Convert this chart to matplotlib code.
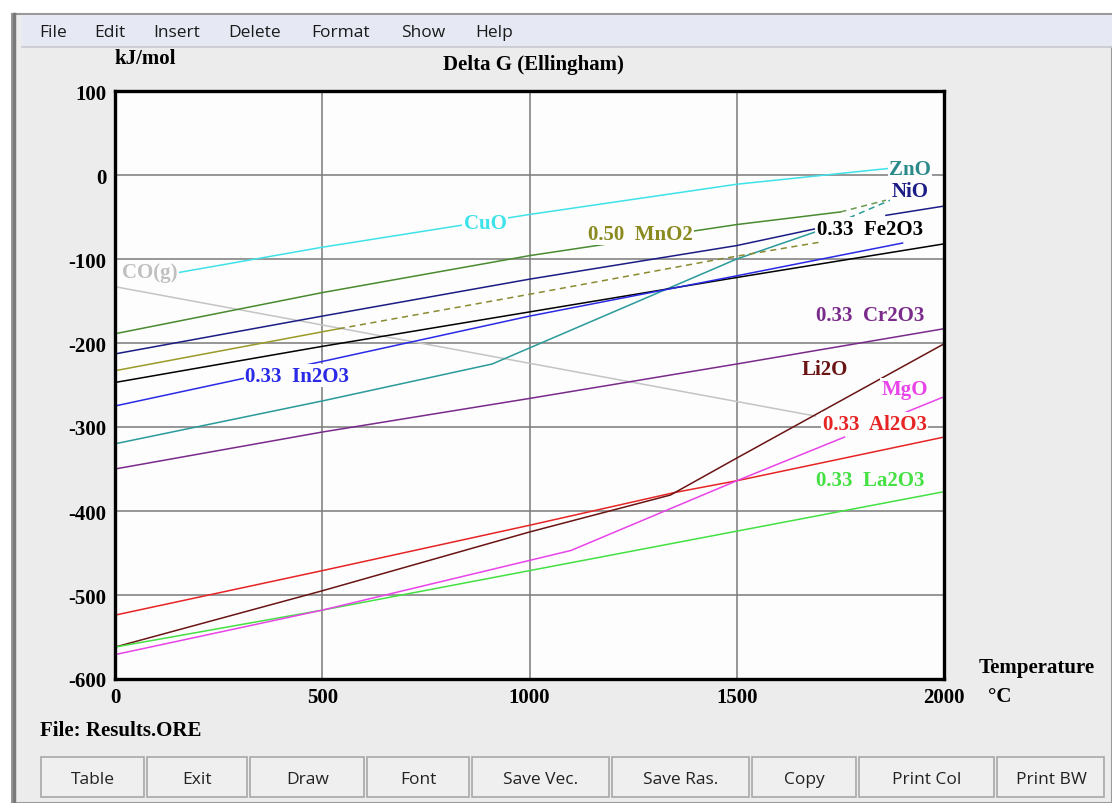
import matplotlib.pyplot as plt
from matplotlib.patches import Rectangle
import numpy as np

plt.rcParams["axes.unicode_minus"] = False

# temperature (deg C) / Delta G (kJ/mol)
co_t = [0, 1690]
co_g = [-133, -287]
cuo_t = [120, 500, 1000, 1500, 1870]
cuo_g = [-119, -86, -47, -11, 8]
zno_t = [0, 500, 910, 1500, 1700]
zno_g = [-320, -269, -225, -100, -66]
zno_dash_t = [1700, 1870]
zno_dash_g = [-66, -30]
mno2_t = [0, 500, 1000, 1500, 1750]
mno2_g = [-189, -140, -96, -59, -44]
mno2_dash_t = [1750, 1860]
mno2_dash_g = [-44, -30]
olive_t = [0, 540]
olive_g = [-233, -183]
olive_dash_t = [540, 1000, 1460, 1700]
olive_dash_g = [-183, -142, -100, -80]
nio_t = [0, 500, 1000, 1500, 1690]
nio_g = [-213, -168, -124, -84, -64]
nio2_t = [1860, 2000]
nio2_g = [-48, -37]
fe2o3_t = [0, 500, 1000, 1500, 2000]
fe2o3_g = [-247, -204, -163, -122, -82]
in2o3_t = [0, 500, 1000, 1500, 1900]
in2o3_g = [-275, -222, -168, -120, -81]
cr2o3_t = [0, 500, 1000, 1500, 2000]
cr2o3_g = [-350, -306, -266, -225, -183]
al2o3_t = [0, 500, 1000, 1350, 1500, 2000]
al2o3_g = [-524, -471, -417, -378, -364, -312]
li2o_t = [0, 500, 1000, 1340, 1500, 2000]
li2o_g = [-562, -495, -425, -381, -337, -201]
mgo_t = [0, 500, 1100, 1500, 1760]
mgo_g = [-571, -518, -447, -364, -312]
mgo2_t = [1880, 2000]
mgo2_g = [-288, -264]
la2o3_t = [0, 500, 1000, 1500, 2000]
la2o3_g = [-562, -518, -471, -424, -377]

menu_items = ["File", "Edit", "Insert", "Delete", "Format", "Show", "Help"]
menu_x = [53, 110, 177, 255, 341, 423, 494]
buttons = ["Table", "Exit", "Draw", "Font", "Save Vec.", "Save Ras.",
           "Copy", "Print Col", "Print BW"]
button_edges = [40, 146, 249, 366, 471, 611, 751, 858, 996, 1106]

serif = ["Liberation Serif", "DejaVu Serif"]
sans = ["Open Sans", "DejaVu Sans"]
fs = 15

fig = plt.figure(figsize=(11.12, 8.04), dpi=100)
fig.patch.set_facecolor("white")

# window chrome
bg = fig.add_axes([0, 0, 1, 1])
bg.set_xlim(0, 1112)
bg.set_ylim(804, 0)
bg.axis("off")
bg.add_patch(Rectangle((12, 15), 1100, 789, facecolor="#ececec",
                       edgecolor="#9a9a9a", lw=1.5))
bg.add_patch(Rectangle((22, 16), 1090, 32, facecolor="#e6e9f4",
                       edgecolor="none"))
bg.plot([22, 1112], [48, 48], color="#c8c8d0", lw=1.2)
bg.plot([14, 14], [15, 804], color="#7a7a7a", lw=2.5)
for name, mx in zip(menu_items, menu_x):
    bg.text(mx, 33, name, ha="center", va="center", fontsize=12.5,
            family=sans, color="#1a1a1a")
for i, name in enumerate(buttons):
    x0, x1 = button_edges[i], button_edges[i + 1]
    bg.add_patch(Rectangle((x0 + 1, 758), x1 - x0 - 3, 40, facecolor="#efefef",
                           edgecolor="#a8a8a8", lw=1.2))
    bg.text((x0 + x1) / 2, 780, name, ha="center", va="center",
            fontsize=12.5, family=sans, color="#222222")
bg.text(145, 59, "kJ/mol", ha="center", va="center", fontsize=fs,
        family=serif, weight="bold")
bg.text(533, 65, "Delta G (Ellingham)", ha="center", va="center",
        fontsize=fs, family=serif, weight="bold")
bg.text(1037, 668, "Temperature", ha="center", va="center", fontsize=fs,
        family=serif, weight="bold")
bg.text(1000, 697, "°C", ha="center", va="center", fontsize=fs,
        family=serif, weight="bold")
bg.text(40, 731, "File: Results.ORE", ha="left", va="center", fontsize=fs,
        family=serif, weight="bold")

# plot
ax = fig.add_axes([115 / 1112, 1 - 680 / 804, 829 / 1112, 588 / 804])
ax.set_facecolor("#fdfdfd")
ax.set_xlim(0, 2000)
ax.set_ylim(-600, 100)
ax.set_xticks([0, 500, 1000, 1500, 2000])
ax.set_yticks([100, 0, -100, -200, -300, -400, -500, -600])
ax.tick_params(length=0, pad=6)
for lab in ax.get_xticklabels() + ax.get_yticklabels():
    lab.set_family(serif)
    lab.set_weight("bold")
    lab.set_fontsize(fs)
for s in ax.spines.values():
    s.set_linewidth(2.4)
    s.set_color("black")
for gx in [500, 1000, 1500]:
    ax.axvline(gx, color="#7a7a7a", lw=1.1, zorder=0)
for gy in [0, -100, -200, -300, -400, -500]:
    ax.axhline(gy, color="#7a7a7a", lw=1.1, zorder=0)

lw = 1.1
dash = (0, (4, 3))
ax.plot(co_t, co_g, color="#c4c4c4", lw=lw)
ax.plot(cuo_t, cuo_g, color="#3ee2ea", lw=lw)
ax.plot(zno_t, zno_g, color="#2a9a9a", lw=lw)
ax.plot(zno_dash_t, zno_dash_g, color="#2a9a9a", lw=lw, ls=dash)
ax.plot(mno2_t, mno2_g, color="#4a8a30", lw=lw)
ax.plot(mno2_dash_t, mno2_dash_g, color="#6a9a50", lw=lw, ls=dash)
ax.plot(olive_t, olive_g, color="#9a9a28", lw=lw)
ax.plot(olive_dash_t, olive_dash_g, color="#8a8a30", lw=lw, ls=dash)
ax.plot(nio_t, nio_g, color="#1c1c86", lw=lw)
ax.plot(nio2_t, nio2_g, color="#1c1c86", lw=lw)
ax.plot(fe2o3_t, fe2o3_g, color="black", lw=lw)
ax.plot(in2o3_t, in2o3_g, color="#2a2ae6", lw=lw)
ax.plot(cr2o3_t, cr2o3_g, color="#7a2a8a", lw=lw)
ax.plot(al2o3_t, al2o3_g, color="#e62424", lw=lw)
ax.plot(li2o_t, li2o_g, color="#6a1414", lw=lw)
ax.plot(la2o3_t, la2o3_g, color="#44e044", lw=lw)
ax.plot(mgo_t, mgo_g, color="#e844e8", lw=lw)
ax.plot(mgo2_t, mgo2_g, color="#e844e8", lw=lw)

box = dict(facecolor="#fdfdfd", edgecolor="none", pad=1)
labels = [
    ("CO(g)", 84, -115, "#c0c0c0"),
    ("CuO", 893, -57, "#3ee2ea"),
    ("0.50  MnO2", 1267, -70, "#8a8a20"),
    ("0.33  Fe2O3", 1821, -64, "black"),
    ("NiO", 1918, -19, "#1c1c86"),
    ("ZnO", 1918, 7, "#2a8a8a"),
    ("0.33  In2O3", 439, -239, "#2a2ae6"),
    ("0.33  Cr2O3", 1821, -167, "#7a2a8a"),
    ("Li2O", 1713, -231, "#6a1414"),
    ("MgO", 1906, -255, "#e844e8"),
    ("0.33  Al2O3", 1833, -296, "#e62424"),
    ("0.33  La2O3", 1821, -363, "#44e044"),
]
for txt, lx, ly, col in labels:
    ax.text(lx, ly, txt, color=col, ha="center", va="center", fontsize=fs,
            family=serif, weight="bold", bbox=box, zorder=5)

fig.savefig("out.png", dpi=100)
